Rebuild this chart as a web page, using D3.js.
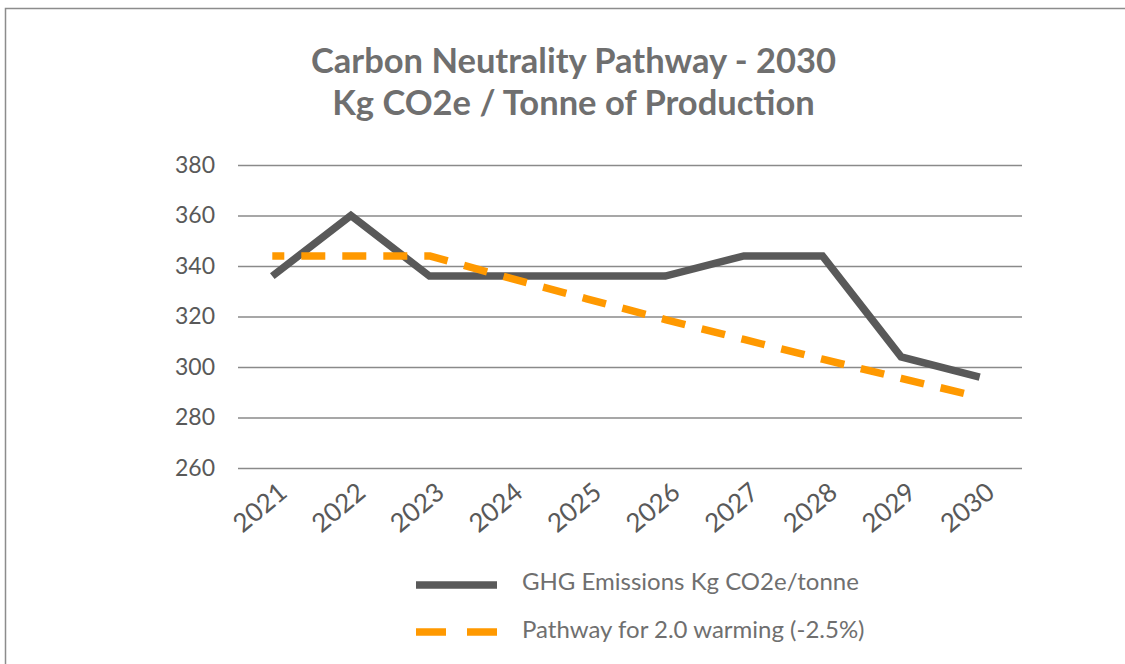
<!DOCTYPE html>
<html><head><meta charset="utf-8">
<script src="https://cdn.jsdelivr.net/npm/d3@7"></script>
<style>body{margin:0;background:#fff}svg{display:block}</style>
</head><body>
<svg id="c" width="1125" height="664"></svg>
<script>
const years = ["2021","2022","2023","2024","2025","2026","2027","2028","2029","2030"];
const ghg = [336, 360, 336, 336, 336, 336, 344, 344, 304, 296];
const pathway = [344, 344, 344, 335.4, 327.0, 318.8, 310.9, 303.1, 295.5, 288.1];
const yTicks = [260, 280, 300, 320, 340, 360, 380];
const titleLines = ["Carbon Neutrality Pathway - 2030", "Kg CO2e / Tonne of Production"];
const legendLabels = ["GHG Emissions Kg CO2e/tonne", "Pathway for 2.0 warming (-2.5%)"];

const svg = d3.select("#c");
const font = "Lato, 'Open Sans', sans-serif";
svg.append("rect").attr("x",5.5).attr("y",8.5).attr("width",1140).attr("height",700)
  .attr("fill","#fff").attr("stroke","#8c8c8c").attr("stroke-width",1.5);

const x = d3.scalePoint().domain(years).range([233, 1019]).padding(0.5);
const y = d3.scaleLinear().domain([260, 380]).range([468, 165]);

// title
svg.append("g").selectAll("text").data(titleLines).join("text")
  .attr("x", 573.5).attr("y", (d,i)=>73 + i*42).attr("text-anchor","middle")
  .attr("font-family", font).attr("font-weight","bold").attr("font-size", 34.5)
  .attr("fill","#6f6f6f").text(d=>d);

// grid
const yAxis = d3.axisLeft(y).tickValues(yTicks).tickSize(-(1022-238)).tickPadding(23);
const gy = svg.append("g").attr("transform","translate(238,0)").call(yAxis);
gy.select(".domain").remove();
gy.selectAll(".tick line").attr("stroke","#8a8a8a").attr("stroke-width",1.5);
gy.selectAll(".tick text").attr("font-family",font).attr("font-size",23).attr("fill","#595959");

// x labels
const xAxis = d3.axisBottom(x).tickSize(0).tickPadding(0);
const gx = svg.append("g").attr("transform","translate(0,468)").call(xAxis);
gx.select(".domain").remove();
gx.selectAll(".tick text").attr("font-family",font).attr("font-size",26).attr("fill","#595959")
  .attr("text-anchor","end").attr("dy",0)
  .attr("transform","translate(16,27) rotate(-40)");

const line = d3.line().x((d,i)=>x(years[i])).y(d=>y(d));
svg.append("path").datum(ghg).attr("d",line).attr("fill","none")
  .attr("stroke","#595959").attr("stroke-width",7.5).attr("stroke-linejoin","miter");
svg.append("path").datum(pathway).attr("d",line).attr("fill","none")
  .attr("stroke","#ff9900").attr("stroke-width",7.5).attr("stroke-dasharray","24,17")
  .attr("stroke-dashoffset",12).attr("stroke-linejoin","round");

// legend
const lg = svg.append("g");
lg.append("line").attr("x1",416).attr("x2",497).attr("y1",585).attr("y2",585)
  .attr("stroke","#595959").attr("stroke-width",7.5);
lg.append("line").attr("x1",416).attr("x2",497).attr("y1",632).attr("y2",632)
  .attr("stroke","#ff9900").attr("stroke-width",7.5).attr("stroke-dasharray","30,21");
lg.selectAll("text").data(legendLabels).join("text")
  .attr("x",522).attr("y",(d,i)=>590 + i*48)
  .attr("font-family",font).attr("font-size",24).attr("fill","#6f6f6f").text(d=>d);
</script>
</body></html>
